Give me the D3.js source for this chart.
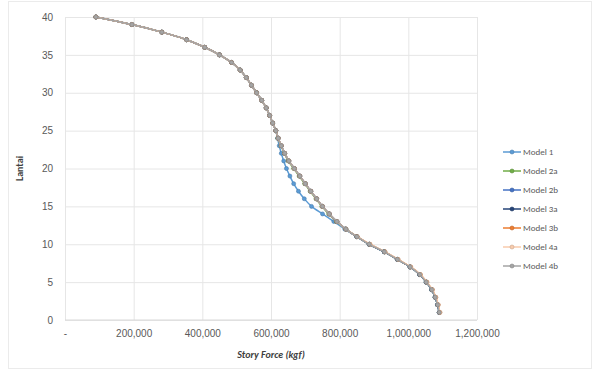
<!DOCTYPE html>
<html>
<head>
<meta charset="utf-8">
<script src="https://cdn.jsdelivr.net/npm/d3@7/dist/d3.min.js"></script>
<style>
  html, body { margin: 0; padding: 0; background: #fff; }
  svg { display: block; font-family: Calibri, "Liberation Sans", Arial, sans-serif; }
</style>
</head>
<body>
<svg id="chart" width="595" height="372"></svg>
<script>
// Story levels (lantai)
const levels = [1, 2, 3, 4, 5, 6, 7, 8, 9, 10,
                11, 12, 13, 14, 15, 16, 17, 18, 19, 20,
                21, 22, 23, 24, 25, 26, 27, 28, 29, 30,
                31, 32, 33, 34, 35, 36, 37, 38, 39, 40];

// Story force per level (kgf)
const forceModel1 = [1090000, 1085000, 1078000, 1068000, 1052000, 1033000, 1005000, 968000, 930000, 886000,
                     850000, 815000, 783000, 750000, 718000, 697000, 680000, 666000, 655000, 645000,
                     637000, 630000, 624000, 619000, 614000, 605000, 596000, 586000, 573000, 558000,
                     543000, 528000, 510000, 485000, 450000, 407000, 354000, 282000, 195000, 90000];
const forceModel2a = [1090000, 1085000, 1078000, 1068000, 1052000, 1033000, 1005000, 968000, 930000, 886000,
                      850000, 818000, 790000, 768000, 748000, 731000, 714000, 698000, 682000, 666000,
                      650000, 639000, 629000, 620000, 614000, 605000, 596000, 586000, 573000, 558000,
                      543000, 528000, 510000, 485000, 450000, 407000, 354000, 282000, 195000, 90000];
const forceModel2b = [1090000, 1085000, 1078000, 1068000, 1052000, 1033000, 1005000, 968000, 930000, 886000,
                      850000, 818000, 792000, 770000, 750000, 733000, 716000, 700000, 684000, 668000,
                      652000, 640000, 630000, 621000, 614000, 605000, 596000, 586000, 573000, 558000,
                      543000, 528000, 510000, 485000, 450000, 407000, 354000, 282000, 195000, 90000];
const forceModel3a = [1090000, 1085000, 1078000, 1068000, 1052000, 1033000, 1005000, 968000, 930000, 886000,
                      850000, 818000, 792000, 770000, 750000, 733000, 716000, 700000, 684000, 668000,
                      652000, 640000, 630000, 621000, 614000, 605000, 596000, 586000, 573000, 558000,
                      543000, 528000, 510000, 485000, 450000, 407000, 354000, 282000, 195000, 90000];
const forceModel3b = [1092000, 1087000, 1080000, 1070000, 1054000, 1035000, 1007000, 970000, 932000, 888000,
                      851000, 818000, 792000, 770000, 750000, 733000, 716000, 700000, 684000, 668000,
                      652000, 640000, 630000, 621000, 614000, 605000, 596000, 586000, 573000, 558000,
                      543000, 528000, 510000, 485000, 450000, 407000, 354000, 282000, 195000, 90000];
const forceModel4a = [1092000, 1087000, 1080000, 1070000, 1054000, 1035000, 1007000, 970000, 932000, 888000,
                      851000, 818000, 792000, 770000, 750000, 733000, 716000, 700000, 684000, 668000,
                      652000, 640000, 630000, 621000, 614000, 605000, 596000, 586000, 573000, 558000,
                      543000, 528000, 510000, 485000, 450000, 407000, 354000, 282000, 195000, 90000];
const forceModel4b = [1090000, 1085000, 1078000, 1068000, 1052000, 1033000, 1005000, 968000, 930000, 886000,
                      850000, 818000, 792000, 770000, 750000, 733000, 716000, 700000, 684000, 668000,
                      652000, 640000, 630000, 621000, 614000, 605000, 596000, 586000, 573000, 558000,
                      543000, 528000, 510000, 485000, 450000, 407000, 354000, 282000, 195000, 90000];

const seriesNames = ["Model 1", "Model 2a", "Model 2b", "Model 3a", "Model 3b", "Model 4a", "Model 4b"];
const seriesValues = [forceModel1, forceModel2a, forceModel2b, forceModel3a, forceModel3b, forceModel4a, forceModel4b];
const seriesColors = ["#5b9bd5", "#70ad47", "#4472c4", "#264478", "#ed7d31", "#f8cbad", "#a5a5a5"];

const xTicks = [0, 200000, 400000, 600000, 800000, 1000000, 1200000];
const yTicks = [0, 5, 10, 15, 20, 25, 30, 35, 40];

const svg = d3.select("#chart");
const W = 595, H = 372;
const plot = { left: 65, right: 477, top: 17, bottom: 320 };

// Outer chart frame
svg.append("rect")
  .attr("x", 8.5).attr("y", 1.5).attr("width", W - 12).attr("height", H - 5)
  .attr("fill", "#fff").attr("stroke", "#ebebeb").attr("stroke-width", 1);

const x = d3.scaleLinear().domain([0, 1200000]).range([plot.left, plot.right]);
const y = d3.scaleLinear().domain([0, 40]).range([plot.bottom, plot.top]);

const fmt = d3.format(",");
const tickColor = "#595959";

// Gridlines
const gx = svg.append("g")
  .attr("transform", `translate(0,${plot.bottom})`)
  .call(d3.axisBottom(x).tickValues(xTicks).tickSize(-(plot.bottom - plot.top)).tickFormat(d => d === 0 ? "-" : fmt(d)));
gx.select(".domain").remove();
gx.selectAll(".tick line").attr("stroke", "#e6e6e6").attr("stroke-width", 1);
gx.selectAll(".tick text").attr("fill", tickColor).attr("font-size", 10).attr("dy", "1.4em");

const gy = svg.append("g")
  .attr("transform", `translate(${plot.left},0)`)
  .call(d3.axisLeft(y).tickValues(yTicks).tickSize(-(plot.right - plot.left)).tickFormat(d3.format("d")));
gy.select(".domain").remove();
gy.selectAll(".tick line").attr("stroke", "#e6e6e6").attr("stroke-width", 1);
gy.selectAll(".tick text").attr("fill", tickColor).attr("font-size", 10).attr("x", -12);

// Horizontal axis line
svg.append("line")
  .attr("x1", plot.left).attr("x2", plot.right)
  .attr("y1", y(0)).attr("y2", y(0))
  .attr("stroke", "#d9d9d9").attr("stroke-width", 1);

// Axis titles
svg.append("text")
  .attr("x", (plot.left + plot.right) / 2).attr("y", 358)
  .attr("text-anchor", "middle")
  .attr("font-size", 10).attr("font-weight", "bold").attr("font-style", "italic")
  .attr("fill", "#404040")
  .text("Story Force (kgf)");

svg.append("text")
  .attr("transform", `translate(23,${(plot.top + plot.bottom) / 2}) rotate(-90)`)
  .attr("text-anchor", "middle")
  .attr("font-size", 10).attr("font-weight", "bold")
  .attr("fill", "#404040")
  .text("Lantai");

// Series lines with markers
const line = d3.line()
  .curve(d3.curveMonotoneY)
  .x(d => x(d.force))
  .y(d => y(d.level));

seriesNames.forEach((name, i) => {
  const data = levels.map((lv, j) => ({ level: lv, force: seriesValues[i][j] }));
  const g = svg.append("g").attr("class", "series");
  g.append("path")
    .datum(data)
    .attr("fill", "none")
    .attr("stroke", seriesColors[i])
    .attr("stroke-width", 1.5)
    .attr("d", line);
  g.selectAll("circle")
    .data(data)
    .join("circle")
    .attr("cx", d => x(d.force))
    .attr("cy", d => y(d.level))
    .attr("r", 2)
    .attr("fill", seriesColors[i])
    .attr("stroke", d3.color(seriesColors[i]).darker(0.6))
    .attr("stroke-width", 0.6);
});

// Legend
const legend = svg.append("g").attr("transform", "translate(503,152)");
seriesNames.forEach((name, i) => {
  const row = legend.append("g").attr("transform", `translate(0,${i * 19})`);
  row.append("line")
    .attr("x1", 0).attr("x2", 18).attr("y1", 0).attr("y2", 0)
    .attr("stroke", seriesColors[i]).attr("stroke-width", 1.5);
  row.append("circle")
    .attr("cx", 9).attr("cy", 0).attr("r", 2)
    .attr("fill", seriesColors[i])
    .attr("stroke", d3.color(seriesColors[i]).darker(0.6))
    .attr("stroke-width", 0.6);
  row.append("text")
    .attr("x", 20).attr("y", 0).attr("dy", "0.35em")
    .attr("font-size", 9).attr("fill", tickColor)
    .text(name);
});
</script>
</body>
</html>
